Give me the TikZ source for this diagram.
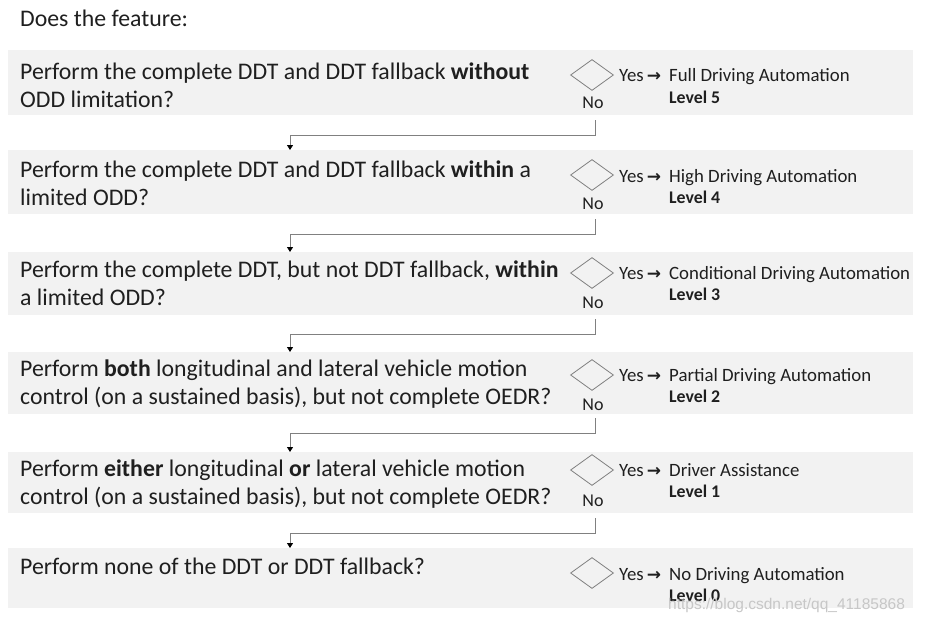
\documentclass[tikz,border=0pt]{standalone}
\usepackage{fontspec}
\setmainfont{Carlito}
\newfontfamily\arrowfont{DejaVu Sans}
\newfontfamily\wmfont{Liberation Sans}
\usetikzlibrary{shapes.geometric,arrows.meta}
\definecolor{bandgray}{HTML}{F2F2F2}
\definecolor{txt}{HTML}{1F1F1F}
\definecolor{linegray}{HTML}{808080}
\newcommand{\yesarrow}{{\arrowfont\bfseries\fontsize{17}{18}\selectfont →}}
\begin{document}
\begin{tikzpicture}[x=1pt,y=-1pt,
  band/.style={fill=bandgray, draw=none, anchor=north west, minimum width=905pt, inner sep=0pt},
  qtext/.style={anchor=base west, inner sep=0pt, align=left, text=txt, font=\fontsize{23.8}{27.8}\selectfont},
  dec/.style={diamond, draw=linegray, line width=0.8pt, minimum width=43pt, minimum height=31pt, inner sep=0pt},
  small/.style={anchor=base west, inner sep=0pt, text=txt, font=\fontsize{18.8}{21}\selectfont},
  lvl/.style={anchor=base west, inner sep=0pt, text=txt, font=\bfseries\fontsize{17.8}{21}\selectfont},
  nolab/.style={anchor=base, inner sep=0pt, text=txt, font=\fontsize{18}{21}\selectfont},
  conn/.style={draw=linegray, line width=0.9pt, -{Triangle[width=6pt,length=5pt,color=black]}},
  wm/.style={anchor=base west, inner sep=0pt, text=black!22, font=\wmfont\fontsize{15.5}{18}\selectfont}
]
\useasboundingbox (0,0) rectangle (925,621);

\node[qtext] (title) at (20,26) {Does the feature:};

% bands
\node[band, minimum height=65pt] (b1) at (8,50) {};
\node[band, minimum height=64pt] (b2) at (8,150) {};
\node[band, minimum height=63pt] (b3) at (8,252) {};
\node[band, minimum height=62pt] (b4) at (8,352) {};
\node[band, minimum height=61pt] (b5) at (8,452) {};
\node[band, minimum height=60pt] (b6) at (8,548) {};

% questions (base anchor = baseline of last line)
\node[qtext] (q1) at (20,107) {Perform the complete DDT and DDT fallback \textbf{without}\\ODD limitation?};
\node[qtext] (q2) at (20,205) {Perform the complete DDT and DDT fallback \textbf{within} a\\limited ODD?};
\node[qtext] (q3) at (20,305) {Perform the complete DDT, but not DDT fallback, \textbf{within}\\a limited ODD?};
\node[qtext] (q4) at (20,404) {Perform \textbf{both} longitudinal and lateral vehicle motion\\control (on a sustained basis), but not complete OEDR?};
\node[qtext] (q5) at (20,504) {Perform \textbf{either} longitudinal \textbf{or} lateral vehicle motion\\control (on a sustained basis), but not complete OEDR?};
\node[qtext] (q6) at (20,574) {Perform none of the DDT or DDT fallback?};

% diamonds
\node[dec] (d1) at (592,75) {};
\node[dec] (d2) at (592,175) {};
\node[dec] (d3) at (592,273) {};
\node[dec] (d4) at (592,375) {};
\node[dec] (d5) at (592,470) {};
\node[dec] (d6) at (592,573) {};

% Yes labels
\node[small] (y1) at (619,81) {Yes\,\yesarrow};
\node[small] (y2) at (619,182) {Yes\,\yesarrow};
\node[small] (y3) at (619,279) {Yes\,\yesarrow};
\node[small] (y4) at (619,381) {Yes\,\yesarrow};
\node[small] (y5) at (619,476) {Yes\,\yesarrow};
\node[small] (y6) at (619,580) {Yes\,\yesarrow};

\node[small] (r1) at (669,81) {Full Driving Automation};
\node[small] (r2) at (669,182) {High Driving Automation};
\node[small] (r3) at (669,279) {Conditional Driving Automation};
\node[small] (r4) at (669,381) {Partial Driving Automation};
\node[small] (r5) at (669,476) {Driver Assistance};
\node[small] (r6) at (669,580) {No Driving Automation};

\node[lvl] (l1) at (669,103) {Level 5};
\node[lvl] (l2) at (669,203) {Level 4};
\node[lvl] (l3) at (669,300) {Level 3};
\node[lvl] (l4) at (669,402) {Level 2};
\node[lvl] (l5) at (669,497) {Level 1};
\node[lvl] (l6) at (669,601) {Level 0};

% No labels
\node[nolab] (n1) at (593,108) {No};
\node[nolab] (n2) at (593,209) {No};
\node[nolab] (n3) at (593,308) {No};
\node[nolab] (n4) at (593,410) {No};
\node[nolab] (n5) at (593,506) {No};

% turning points
\coordinate (k1) at (290,135);
\coordinate (k2) at (290,234);
\coordinate (k3) at (290,334);
\coordinate (k4) at (290,433);
\coordinate (k5) at (290,533);
\coordinate (s1) at (595,120);
\coordinate (s2) at (595,219);
\coordinate (s3) at (595,319);
\coordinate (s4) at (595,418);
\coordinate (s5) at (595,518);

\draw[conn] (s1) |- (k1) -- (k1 |- b2.north);
\draw[conn] (s2) |- (k2) -- (k2 |- b3.north);
\draw[conn] (s3) |- (k3) -- (k3 |- b4.north);
\draw[conn] (s4) |- (k4) -- (k4 |- b5.north);
\draw[conn] (s5) |- (k5) -- (k5 |- b6.north);

\node[wm] (w) at (668,609) {https://blog.csdn.net/qq\_41185868};
\end{tikzpicture}
\end{document}
